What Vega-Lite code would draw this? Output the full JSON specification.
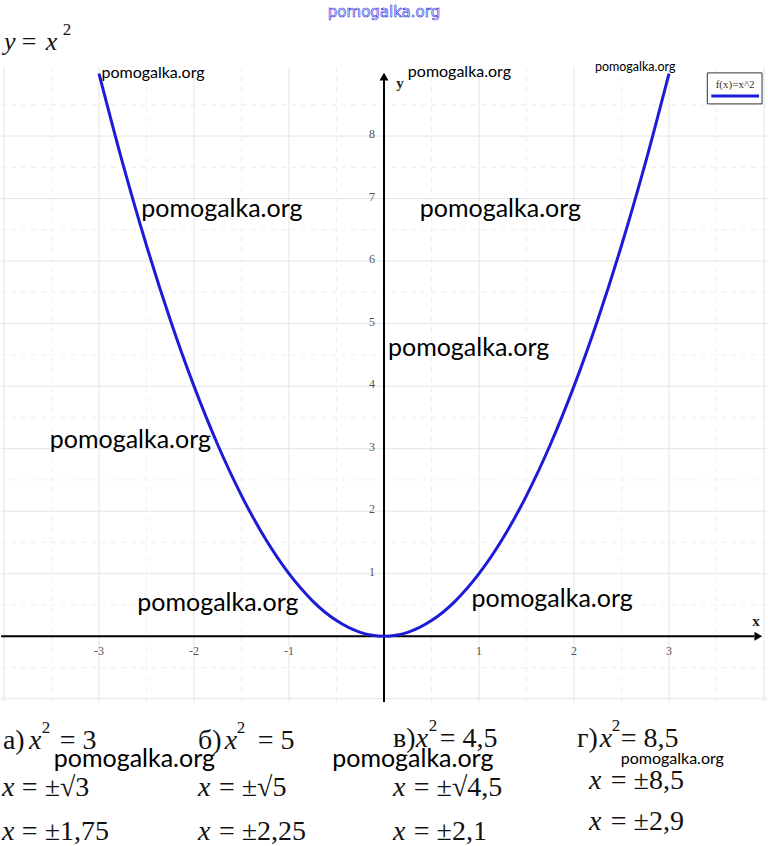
{
  "$schema": "https://vega.github.io/schema/vega-lite/v6.json",
  "width": 768,
  "height": 846,
  "autosize": {"type": "fit", "contains": "padding"},
  "padding": 0,
  "background": "white",
  "config": {"view": {"stroke": null}},
  "datasets": {
    "curve": [
      {"x": -3, "y": 9}, {"x": -2.75, "y": 7.5625}, {"x": -2.5, "y": 6.25}, {"x": -2.25, "y": 5.0625},
      {"x": -2, "y": 4}, {"x": -1.75, "y": 3.0625}, {"x": -1.5, "y": 2.25}, {"x": -1.25, "y": 1.5625},
      {"x": -1, "y": 1}, {"x": -0.75, "y": 0.5625}, {"x": -0.5, "y": 0.25}, {"x": -0.25, "y": 0.0625},
      {"x": 0, "y": 0}, {"x": 0.25, "y": 0.0625}, {"x": 0.5, "y": 0.25}, {"x": 0.75, "y": 0.5625},
      {"x": 1, "y": 1}, {"x": 1.25, "y": 1.5625}, {"x": 1.5, "y": 2.25}, {"x": 1.75, "y": 3.0625},
      {"x": 2, "y": 4}, {"x": 2.25, "y": 5.0625}, {"x": 2.5, "y": 6.25}, {"x": 2.75, "y": 7.5625},
      {"x": 3, "y": 9}
    ],
    "hgrid": [
      {"x": -4.03, "x2": 4.03, "y": 1}, {"x": -4.03, "x2": 4.03, "y": 2}, {"x": -4.03, "x2": 4.03, "y": 3},
      {"x": -4.03, "x2": 4.03, "y": 4}, {"x": -4.03, "x2": 4.03, "y": 5}, {"x": -4.03, "x2": 4.03, "y": 6},
      {"x": -4.03, "x2": 4.03, "y": 7}, {"x": -4.03, "x2": 4.03, "y": 8}, {"x": -4.03, "x2": 4.03, "y": -1}
    ],
    "hgridHalf": [
      {"x": -4.03, "x2": 4.03, "y": -0.5}, {"x": -4.03, "x2": 4.03, "y": 0.5}, {"x": -4.03, "x2": 4.03, "y": 1.5},
      {"x": -4.03, "x2": 4.03, "y": 2.5}, {"x": -4.03, "x2": 4.03, "y": 3.5}, {"x": -4.03, "x2": 4.03, "y": 4.5},
      {"x": -4.03, "x2": 4.03, "y": 5.5}, {"x": -4.03, "x2": 4.03, "y": 6.5}, {"x": -4.03, "x2": 4.03, "y": 7.5},
      {"x": -4.03, "x2": 4.03, "y": 8.5}
    ],
    "vgrid": [
      {"x": -4, "y": -1.05, "y2": 9.1}, {"x": -3, "y": -1.05, "y2": 9.1}, {"x": -2, "y": -1.05, "y2": 9.1},
      {"x": -1, "y": -1.05, "y2": 9.1}, {"x": 1, "y": -1.05, "y2": 9.1}, {"x": 2, "y": -1.05, "y2": 9.1},
      {"x": 3, "y": -1.05, "y2": 9.1}, {"x": 4, "y": -1.05, "y2": 9.1}
    ],
    "vgridHalf": [
      {"x": -3.5, "y": -1.05, "y2": 9.1}, {"x": -2.5, "y": -1.05, "y2": 9.1}, {"x": -1.5, "y": -1.05, "y2": 9.1},
      {"x": -0.5, "y": -1.05, "y2": 9.1}, {"x": 0.5, "y": -1.05, "y2": 9.1}, {"x": 1.5, "y": -1.05, "y2": 9.1},
      {"x": 2.5, "y": -1.05, "y2": 9.1}, {"x": 3.5, "y": -1.05, "y2": 9.1}
    ],
    "xaxis": [{"x": -4.03, "x2": 3.9, "y": 0}],
    "yaxis": [{"x": 0, "y": -1.05, "y2": 8.9}],
    "arrowRight": [{"x": 3.94, "y": 0}],
    "arrowUp": [{"x": 0, "y": 8.95}],
    "xLabels": [
      {"x": -3, "y": -0.24, "text": "-3"}, {"x": -2, "y": -0.24, "text": "-2"}, {"x": -1, "y": -0.24, "text": "-1"},
      {"x": 1, "y": -0.24, "text": "1"}, {"x": 2, "y": -0.24, "text": "2"}, {"x": 3, "y": -0.24, "text": "3"}
    ],
    "yLabels": [
      {"x": -0.126, "y": 1.03, "text": "1"}, {"x": -0.126, "y": 2.03, "text": "2"}, {"x": -0.126, "y": 3.03, "text": "3"},
      {"x": -0.126, "y": 4.03, "text": "4"}, {"x": -0.126, "y": 5.03, "text": "5"}, {"x": -0.126, "y": 6.03, "text": "6"},
      {"x": -0.126, "y": 7.03, "text": "7"}, {"x": -0.126, "y": 8.03, "text": "8"}
    ],
    "axisNames": [
      {"x": 3.916, "y": 0.24, "text": "x"}, {"x": 0.168, "y": 8.85, "text": "y"}
    ],
    "legendBox": [{"x": 3.403, "x2": 3.979, "y": 9.01, "y2": 8.514}],
    "legendLine": [{"x": 3.445, "x2": 3.948, "y": 8.64}],
    "legendText": [{"x": 3.696, "y": 8.81, "text": "f(x)=x^2"}],
    "title": [{"x": -3.812, "y": 9.505, "text": "="}],
    "titleItalic": [{"x": -4.0, "y": 9.505, "text": "y"}, {"x": -3.56, "y": 9.505, "text": "x"}],
    "titleSup": [{"x": -3.382, "y": 9.70, "text": "2"}],
    "upright": [
      {"x": -4.011, "y": -1.677, "text": "а)"}, {"x": -3.414, "y": -1.677, "text": "= 3"},
      {"x": -1.958, "y": -1.677, "text": "б)"}, {"x": -1.330, "y": -1.677, "text": "= 5"},
      {"x": 0.094, "y": -1.645, "text": "в)"}, {"x": 0.586, "y": -1.645, "text": "= 4,5"},
      {"x": 2.031, "y": -1.645, "text": "г)"}, {"x": 2.492, "y": -1.645, "text": "= 8,5"},
      {"x": -3.812, "y": -2.428, "text": "= ±√3"}, {"x": -1.738, "y": -2.428, "text": "= ±√5"},
      {"x": 0.314, "y": -2.428, "text": "= ±√4,5"}, {"x": 2.387, "y": -2.316, "text": "= ±8,5"},
      {"x": -3.812, "y": -3.131, "text": "= ±1,75"}, {"x": -1.738, "y": -3.131, "text": "= ±2,25"},
      {"x": 0.314, "y": -3.131, "text": "= ±2,1"}, {"x": 2.387, "y": -2.971, "text": "= ±2,9"}
    ],
    "italic": [
      {"x": -3.738, "y": -1.677, "text": "x"}, {"x": -1.675, "y": -1.677, "text": "x"},
      {"x": 0.335, "y": -1.645, "text": "x"}, {"x": 2.272, "y": -1.645, "text": "x"},
      {"x": -4.021, "y": -2.428, "text": "x"}, {"x": -1.958, "y": -2.428, "text": "x"},
      {"x": 0.094, "y": -2.428, "text": "x"}, {"x": 2.158, "y": -2.316, "text": "x"},
      {"x": -4.021, "y": -3.131, "text": "x"}, {"x": -1.958, "y": -3.131, "text": "x"},
      {"x": 0.094, "y": -3.131, "text": "x"}, {"x": 2.158, "y": -2.971, "text": "x"}
    ],
    "sup": [
      {"x": -3.602, "y": -1.47, "text": "2"}, {"x": -1.55, "y": -1.47, "text": "2"},
      {"x": 0.471, "y": -1.438, "text": "2"}, {"x": 2.398, "y": -1.438, "text": "2"}
    ],
    "wmBig": [
      {"x": -2.555, "y": 6.837, "text": "pomogalka.org"}, {"x": 0.377, "y": 6.837, "text": "pomogalka.org"},
      {"x": 0.042, "y": 4.617, "text": "pomogalka.org"}, {"x": -3.518, "y": 3.131, "text": "pomogalka.org"},
      {"x": -2.597, "y": 0.527, "text": "pomogalka.org"}, {"x": 0.921, "y": 0.591, "text": "pomogalka.org"},
      {"x": -3.476, "y": -1.965, "text": "pomogalka.org"}, {"x": -0.545, "y": -1.965, "text": "pomogalka.org"}
    ],
    "wmMid": [
      {"x": -2.974, "y": 9.01, "text": "pomogalka.org"}, {"x": 0.251, "y": 9.026, "text": "pomogalka.org"},
      {"x": 2.492, "y": -1.965, "text": "pomogalka.org"}
    ],
    "wmSmall": [
      {"x": 2.22, "y": 9.105, "text": "pomogalka.org"}
    ],
    "wmTop": [
      {"x": 0, "y": 9.984, "text": "pomogalka.org"}
    ]
  },
  "encoding": {
    "x": {"field": "x", "type": "quantitative", "axis": null, "scale": {"domain": [-4.0209, 4.0209], "nice": false, "zero": false}},
    "y": {"field": "y", "type": "quantitative", "axis": null, "scale": {"domain": [-3.339, 10.176], "nice": false, "zero": false}}
  },
  "layer": [
    {"data": {"name": "hgridHalf"}, "mark": {"type": "rule", "color": "#eeeeee", "strokeWidth": 1, "strokeDash": [5, 5]}, "encoding": {"x2": {"field": "x2"}}},
    {"data": {"name": "vgridHalf"}, "mark": {"type": "rule", "color": "#eeeeee", "strokeWidth": 1, "strokeDash": [5, 5]}, "encoding": {"y2": {"field": "y2"}}},
    {"data": {"name": "hgrid"}, "mark": {"type": "rule", "color": "#e4e4e4", "strokeWidth": 1}, "encoding": {"x2": {"field": "x2"}}},
    {"data": {"name": "vgrid"}, "mark": {"type": "rule", "color": "#e4e4e4", "strokeWidth": 1}, "encoding": {"y2": {"field": "y2"}}},
    {"data": {"name": "xaxis"}, "mark": {"type": "rule", "color": "#000000", "strokeWidth": 2}, "encoding": {"x2": {"field": "x2"}}},
    {"data": {"name": "yaxis"}, "mark": {"type": "rule", "color": "#000000", "strokeWidth": 2}, "encoding": {"y2": {"field": "y2"}}},
    {"data": {"name": "arrowRight"}, "mark": {"type": "point", "shape": "triangle-right", "filled": true, "color": "#000000", "size": 80, "opacity": 1}},
    {"data": {"name": "arrowUp"}, "mark": {"type": "point", "shape": "triangle-up", "filled": true, "color": "#000000", "size": 80, "opacity": 1}},
    {"data": {"name": "xLabels"}, "mark": {"type": "text", "font": "Liberation Serif", "fontSize": 12, "color": "#555555", "align": "center", "baseline": "middle"}, "encoding": {"text": {"field": "text"}}},
    {"data": {"name": "yLabels"}, "mark": {"type": "text", "font": "Liberation Serif", "fontSize": 12, "color": "#555555", "align": "center", "baseline": "middle"}, "encoding": {"text": {"field": "text"}}},
    {"data": {"name": "axisNames"}, "mark": {"type": "text", "font": "Liberation Serif", "fontSize": 15, "fontWeight": "bold", "color": "#222222", "align": "center", "baseline": "middle"}, "encoding": {"text": {"field": "text"}}},
    {"data": {"name": "curve"}, "mark": {"type": "line", "color": "#1c1cd8", "strokeWidth": 3, "interpolate": "monotone"}},
    {"data": {"name": "legendBox"}, "mark": {"type": "rect", "fill": "white", "stroke": "#333333", "strokeWidth": 1}, "encoding": {"x2": {"field": "x2"}, "y2": {"field": "y2"}}},
    {"data": {"name": "legendLine"}, "mark": {"type": "rule", "color": "#1c1cd8", "strokeWidth": 3}, "encoding": {"x2": {"field": "x2"}}},
    {"data": {"name": "legendText"}, "mark": {"type": "text", "font": "Liberation Serif", "fontSize": 11, "color": "#333333", "align": "center", "baseline": "middle"}, "encoding": {"text": {"field": "text"}}},
    {"data": {"name": "title"}, "mark": {"type": "text", "font": "Liberation Serif", "fontSize": 26, "color": "#111111", "align": "left", "baseline": "middle"}, "encoding": {"text": {"field": "text"}}},
    {"data": {"name": "titleItalic"}, "mark": {"type": "text", "font": "Liberation Serif", "fontStyle": "italic", "fontSize": 26, "color": "#111111", "align": "left", "baseline": "middle"}, "encoding": {"text": {"field": "text"}}},
    {"data": {"name": "titleSup"}, "mark": {"type": "text", "font": "Liberation Serif", "fontSize": 17, "color": "#111111", "align": "left", "baseline": "middle"}, "encoding": {"text": {"field": "text"}}},
    {"data": {"name": "upright"}, "mark": {"type": "text", "font": "Liberation Serif", "fontSize": 28, "color": "#111111", "align": "left", "baseline": "middle"}, "encoding": {"text": {"field": "text"}}},
    {"data": {"name": "italic"}, "mark": {"type": "text", "font": "Liberation Serif", "fontStyle": "italic", "fontSize": 28, "color": "#111111", "align": "left", "baseline": "middle"}, "encoding": {"text": {"field": "text"}}},
    {"data": {"name": "sup"}, "mark": {"type": "text", "font": "Liberation Serif", "fontSize": 17, "color": "#111111", "align": "left", "baseline": "middle"}, "encoding": {"text": {"field": "text"}}},
    {"data": {"name": "wmBig"}, "mark": {"type": "text", "font": "Lato", "fontSize": 25, "color": "#000000", "align": "left", "baseline": "middle"}, "encoding": {"text": {"field": "text"}}},
    {"data": {"name": "wmMid"}, "mark": {"type": "text", "font": "Lato", "fontSize": 16, "color": "#000000", "align": "left", "baseline": "middle"}, "encoding": {"text": {"field": "text"}}},
    {"data": {"name": "wmSmall"}, "mark": {"type": "text", "font": "Lato", "fontSize": 12.5, "color": "#000000", "align": "left", "baseline": "middle"}, "encoding": {"text": {"field": "text"}}},
    {"data": {"name": "wmTop"}, "mark": {"type": "text", "font": "DejaVu Sans", "fontSize": 15, "fill": "white", "stroke": "#2a2ae0", "strokeWidth": 0.6, "align": "center", "baseline": "middle"}, "encoding": {"text": {"field": "text"}}}
  ]
}
